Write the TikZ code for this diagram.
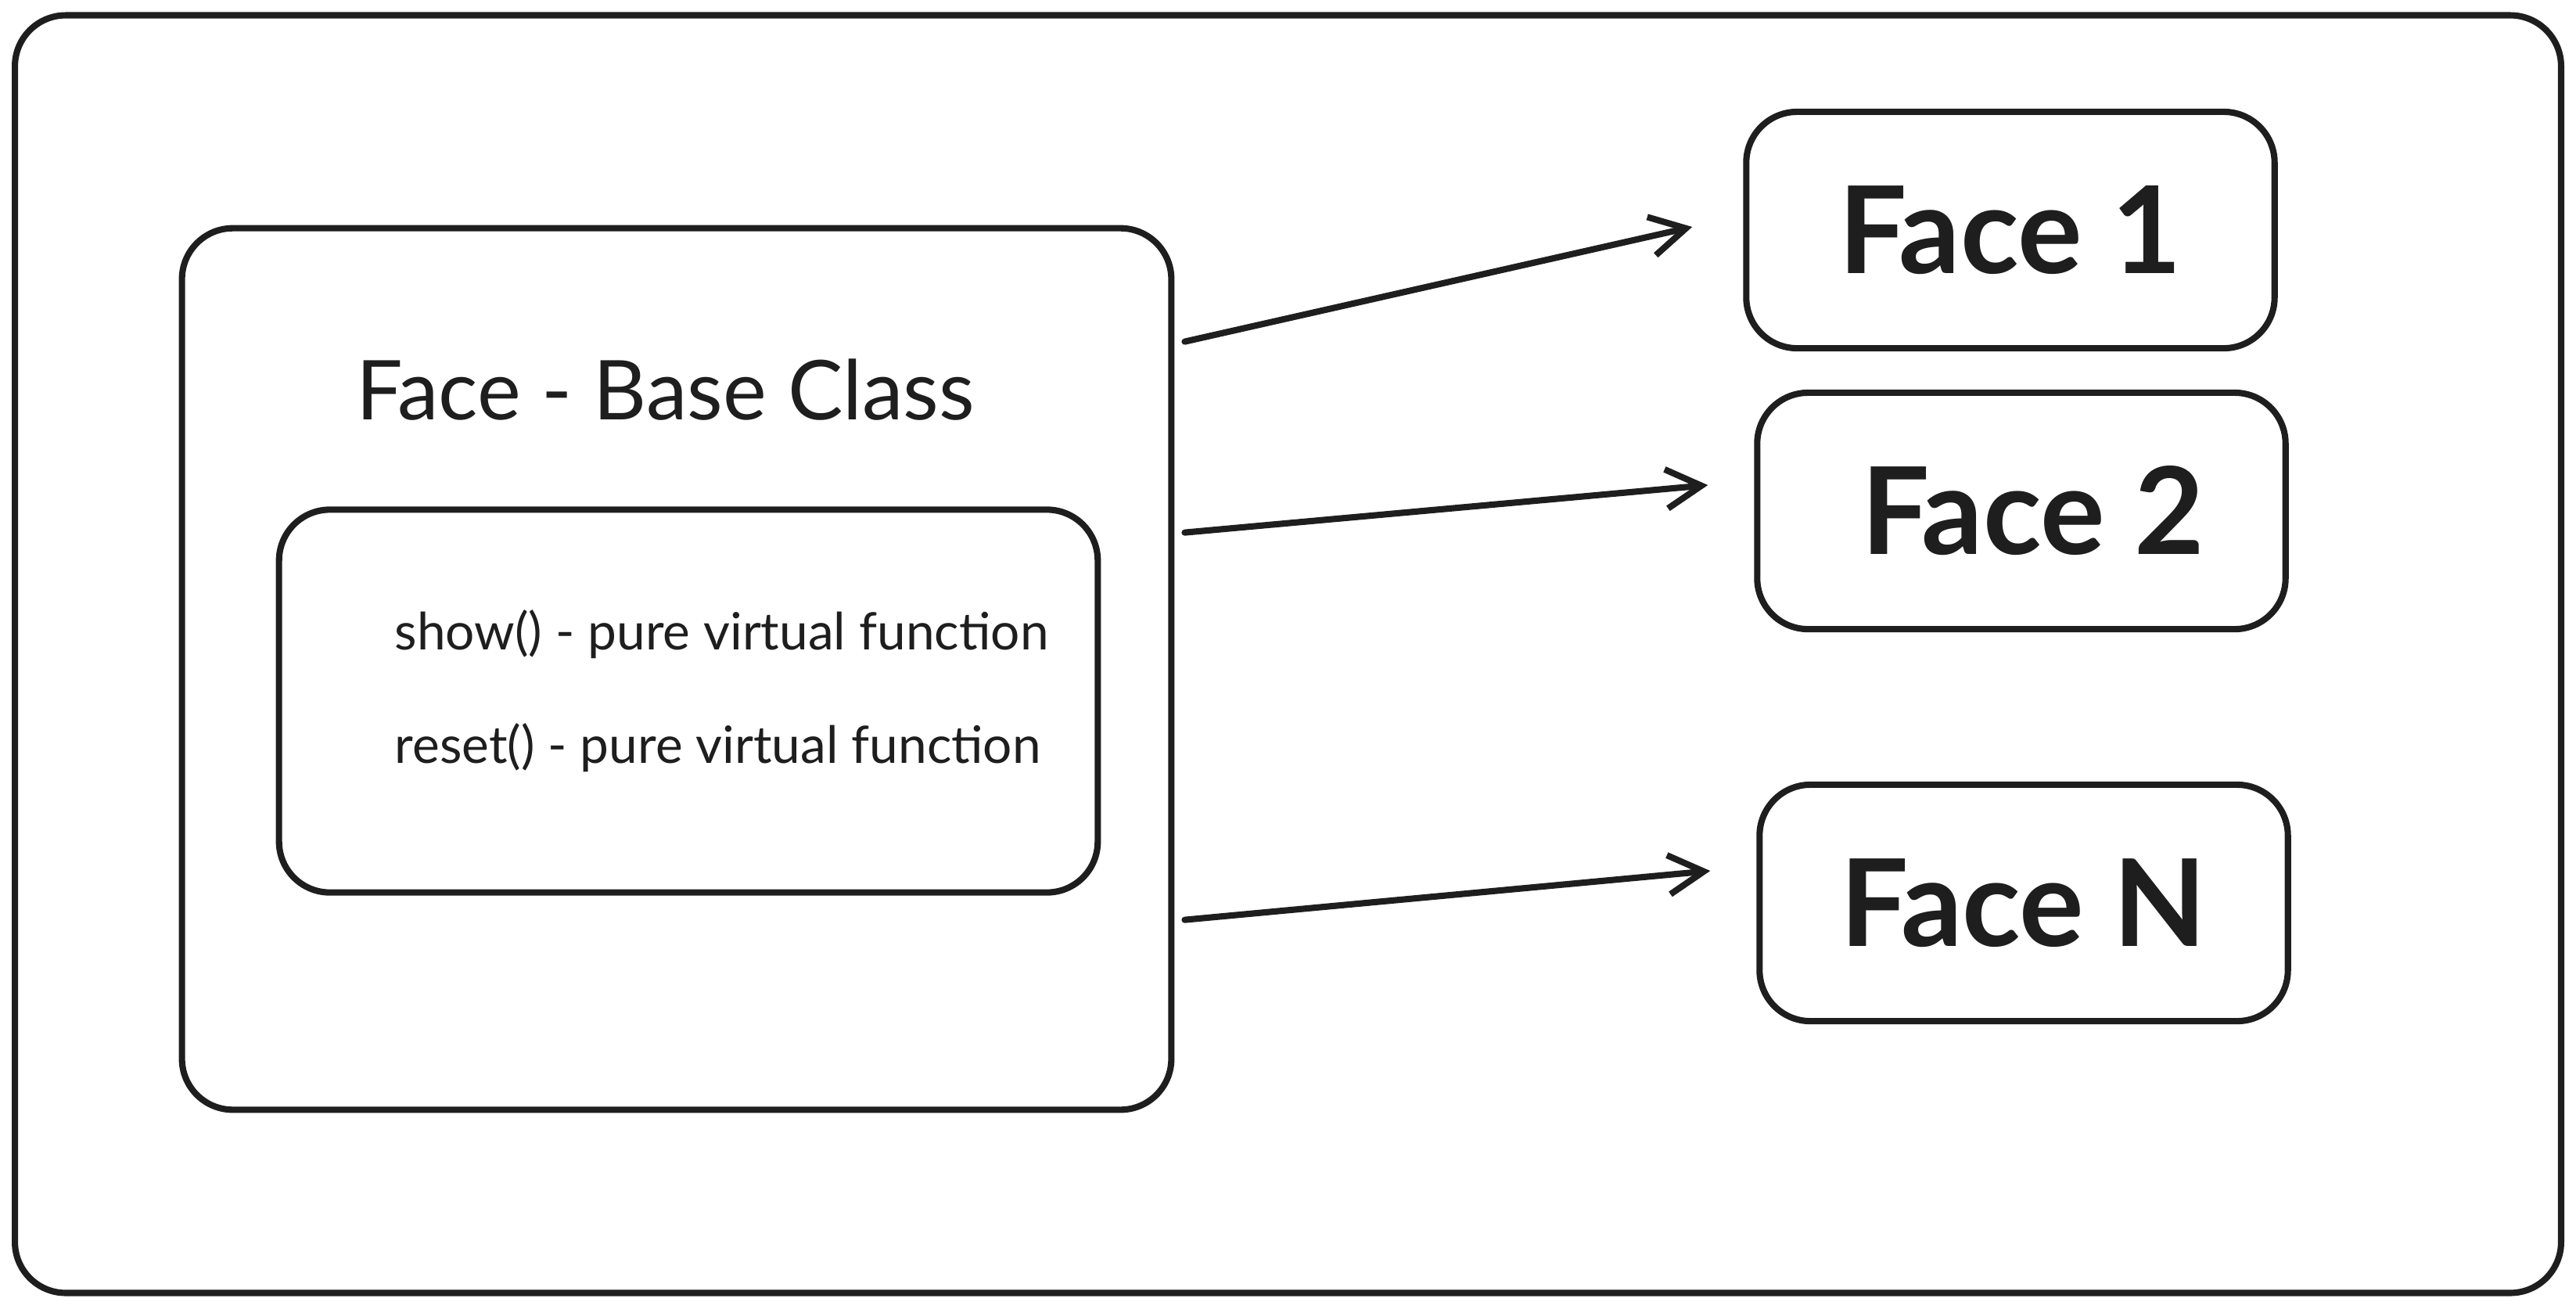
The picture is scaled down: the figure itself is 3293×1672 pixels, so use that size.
\documentclass[tikz,border=0pt]{standalone}
\usepackage{fontspec}
\setmainfont{Lato}
\usepackage{tikz}
\usetikzlibrary{positioning}
\usetikzlibrary{arrows.meta}
\usetikzlibrary{calc}

\definecolor{ink}{HTML}{1E1E1E}

\begin{document}
\begin{tikzpicture}[x=0.01cm, y=-0.01cm,
	box/.style={draw=ink, line width=2.3pt, rectangle, rounded corners=0.65cm, align=center, text=ink},
	face/.style={box, minimum width=6.75cm, minimum height=3.02cm, font=\fontsize{44}{52}\selectfont\bfseries},
	title/.style={text=ink, font=\fontsize{30}{36}\selectfont},
	func/.style={anchor=west, inner sep=0pt, text=ink, font=\fontsize{18.7}{22}\selectfont},
	link/.style={draw=ink, line width=2.3pt, line cap=round, -{Straight Barb[length=0.45cm, width=0.5cm]}}]
	\useasboundingbox (0,0) rectangle (3293,1672);

	\node[box, minimum width=32.53cm, minimum height=16.32cm] (frame) at (1646.5,836) {};

	\node[box, minimum width=12.64cm, minimum height=11.26cm] (base) at (865,855) {};
	\node[title] (basetitle) at (851,498) {Face - Base Class};
	\node[box, minimum width=10.46cm, minimum height=4.89cm] (methods) at (880,896) {};
	\node[func] (showfn) at (504,811) {show() - pure virtual function};
	\node[func] (resetfn) at (504,956) {reset() - pure virtual function};

	\node[face] (face1) at (2570,294) {Face 1};
	\node[face] (face2) at (2584,653) {\hspace{0.3cm}Face 2};
	\node[face] (facen) at (2587,1154) {Face N};

	\draw[link] ($(base.north east)+(13,149)$) -- ($(face1.west)+(-65,-4)$);
	\draw[link] ($(base.north east)+(13,393)$) -- ($(face2.west)+(-59,-33)$);
	\draw[link] ($(base.north east)+(13,888)$) -- ($(facen.west)+(-59,-41)$);
\end{tikzpicture}
\end{document}
